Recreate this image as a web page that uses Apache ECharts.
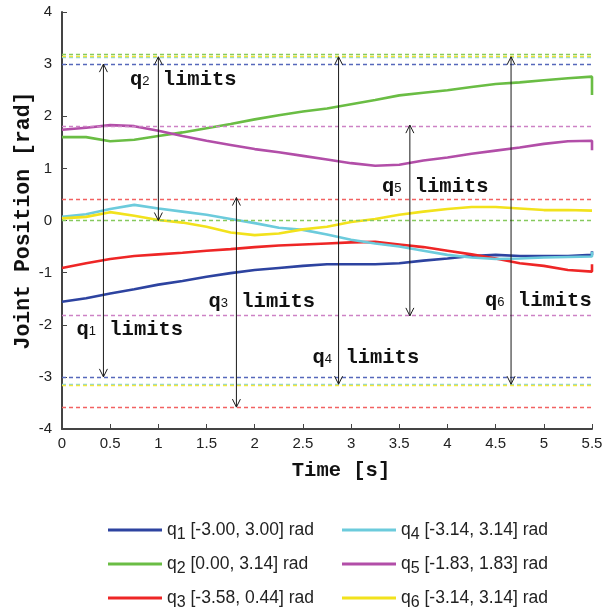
<!DOCTYPE html>
<html>
<head>
<meta charset="utf-8">
<script src="https://cdn.jsdelivr.net/npm/echarts@6/dist/echarts.min.js"></script>
<style>html,body{margin:0;padding:0;background:#fff}#c{width:602px;height:612px}</style>
</head>
<body>
<div id="c"></div>
<script>
// ---- data ----
const time = [0,0.25,0.5,0.75,1,1.25,1.5,1.75,2,2.25,2.5,2.75,3,3.25,3.5,3.75,4,4.25,4.5,4.75,5,5.25,5.5,5.5];
const q1 = [-1.56,-1.49,-1.40,-1.32,-1.23,-1.16,-1.08,-1.01,-0.95,-0.91,-0.87,-0.84,-0.84,-0.84,-0.82,-0.77,-0.73,-0.68,-0.66,-0.68,-0.68,-0.68,-0.66,-0.59];
const q2 = [1.60,1.60,1.52,1.55,1.62,1.69,1.77,1.85,1.94,2.02,2.09,2.15,2.23,2.31,2.40,2.45,2.50,2.56,2.62,2.65,2.69,2.73,2.76,2.41];
const q3 = [-0.91,-0.82,-0.74,-0.68,-0.65,-0.62,-0.58,-0.55,-0.51,-0.48,-0.46,-0.44,-0.42,-0.41,-0.46,-0.51,-0.58,-0.65,-0.73,-0.82,-0.87,-0.95,-0.98,-0.84];
const q4 = [0.07,0.12,0.22,0.30,0.23,0.17,0.11,0.03,-0.05,-0.14,-0.18,-0.27,-0.37,-0.44,-0.50,-0.58,-0.66,-0.71,-0.74,-0.73,-0.71,-0.70,-0.69,-0.60];
const q5 = [1.74,1.78,1.83,1.81,1.72,1.62,1.53,1.45,1.37,1.31,1.24,1.17,1.10,1.05,1.07,1.15,1.21,1.28,1.34,1.40,1.47,1.52,1.53,1.35];
const q6 = [0.04,0.07,0.16,0.09,0.01,-0.04,-0.12,-0.23,-0.28,-0.25,-0.17,-0.12,-0.03,0.03,0.11,0.17,0.22,0.26,0.26,0.23,0.20,0.20,0.19,0.19];
const jointNames = ['q1','q2','q3','q4','q5','q6'];
const jointData = [q1,q2,q3,q4,q5,q6];
const rangeText = ['[-3.00, 3.00] rad','[0.00, 3.14] rad','[-3.58, 0.44] rad','[-3.14, 3.14] rad','[-1.83, 1.83] rad','[-3.14, 3.14] rad'];
// drawn limit lines (lower, upper)
const limitLow  = [-3.00, 0.00, -3.58, -3.14, -1.81, -3.16];
const limitHigh = [ 3.00, 3.19,  0.41,  3.13,  1.81,  3.16];
// limit arrows: time, bottom, top
const arrowT   = [0.43, 1.00, 1.81, 2.87, 3.61, 4.66];
const arrowLo  = [-3.00, 0.00, -3.58, -3.14, -1.83, -3.14];
const arrowHi  = [ 3.00, 3.14,  0.44,  3.14,  1.83,  3.14];
// limit labels: left time, centre value
const labelT = [0.15, 0.705, 1.52, 2.60, 3.32, 4.39];
const labelV = [-2.10, 2.69, -1.56, -2.63, 0.65, -1.54];
const xTicks = [0,0.5,1,1.5,2,2.5,3,3.5,4,4.5,5,5.5];
const yTicks = [-4,-3,-2,-1,0,1,2,3,4];

// ---- styles ----
const lineColors = ['#2d43a0','#6abd44','#ee2626','#6ccbdc','#b24ea8','#f2e21c'];
const dashColors = ['#5668bb','#86c95e','#f26262','#84d3e0','#cd82c5','#f3e63c'];
const legendLeft = [108,108,108,342,342,342];
const legendTop  = [517,551,585,517,551,585];

const chart = echarts.init(document.getElementById('c'), null, {renderer:'canvas'});

const series = jointNames.map((n,i)=>({
  name: n,
  type: 'line',
  data: time.map((t,k)=>[t, jointData[i][k]]),
  showSymbol: false,
  symbol: 'none',
  lineStyle: {width: 2.6, color: lineColors[i]},
  itemStyle: {color: lineColors[i]},
  silent: true,
  z: 3,
  markLine: {
    silent: true,
    symbol: 'none',
    label: {show: false},
    animation: false,
    lineStyle: {type: [4,3], width: 1.4, color: dashColors[i]},
    emphasis: {disabled: true},
    data: [{yAxis: limitLow[i]}, {yAxis: limitHigh[i]}]
  }
}));

series.push({
  type: 'custom',
  silent: true,
  z: 5,
  data: arrowT.map((t,i)=>[t, arrowLo[i], arrowHi[i]]),
  renderItem: function(params, api){
    const b = api.coord([api.value(0), api.value(1)]);
    const tp = api.coord([api.value(0), api.value(2)]);
    const hw = 4, hh = 8;
    const st = {stroke:'#1a1a1a', lineWidth:1, fill:null};
    return {type:'group', children:[
      {type:'line', shape:{x1:b[0],y1:b[1],x2:tp[0],y2:tp[1]}, style:st},
      {type:'polyline', shape:{points:[[tp[0]-hw,tp[1]+hh],[tp[0],tp[1]],[tp[0]+hw,tp[1]+hh]]}, style:st},
      {type:'polyline', shape:{points:[[b[0]-hw,b[1]-hh],[b[0],b[1]],[b[0]+hw,b[1]-hh]]}, style:st}
    ]};
  }
});

series.push({
  type: 'custom',
  silent: true,
  z: 6,
  data: labelT.map((t,i)=>[t, labelV[i], i+1]),
  renderItem: function(params, api){
    const p = api.coord([api.value(0), api.value(1)]);
    return {type:'text', x:p[0], y:p[1], style:{
      text: '{b|q}{s|' + api.value(2) + '}{b| limits}',
      align:'left', verticalAlign:'middle',
      rich:{
        b:{fontFamily:'Liberation Mono', fontWeight:'bold', fontSize:20.5, fill:'#111', lineHeight:22},
        s:{fontFamily:'Liberation Sans', fontSize:13, fill:'#111', lineHeight:22, padding:[3,1,0,0]}
      }
    }};
  }
});

const legendRich = {
  q:{fontFamily:'Liberation Sans', fontSize:17.5, color:'#222', lineHeight:20},
  s:{fontFamily:'Liberation Sans', fontSize:16, color:'#222', lineHeight:20, padding:[10,0,0,0]},
  r:{fontFamily:'Liberation Sans', fontSize:17.5, color:'#222', lineHeight:20}
};
function legendFmt(name){
  const i = jointNames.indexOf(name);
  return '{q|q}{s|' + (i+1) + '}{r| ' + rangeText[i] + '}';
}
const legends = jointNames.map((n,i)=>({
  orient:'vertical', left:legendLeft[i], top:legendTop[i],
  data:[{name:n, icon:'rect'}],
  itemWidth:54, itemHeight:3,
  selectedMode:false,
  padding:0,
  formatter: legendFmt,
  textStyle:{rich:legendRich}
}));

chart.setOption({
  animation: false,
  backgroundColor:'#fff',
  grid:{left:62, right:10, top:12, bottom:183, outerBoundsMode:'none', containLabel:false},
  legend: legends,
  xAxis:{
    type:'value', min:0, max:5.5, interval:0.5,
    axisLine:{show:true, onZero:false, lineStyle:{color:'#444', width:2}},
    axisTick:{show:true, inside:true, length:5, lineStyle:{color:'#444', width:1}},
    splitLine:{show:false},
    axisLabel:{color:'#222', fontFamily:'Liberation Sans', fontSize:15, margin:7,
      formatter: v => (xTicks.indexOf(v) >= 0 ? String(v) : '')},
    name:'Time [s]', nameLocation:'middle', nameGap:31, nameMoveOverlap:false,
    nameTextStyle:{fontFamily:'Liberation Mono', fontWeight:'bold', fontSize:20.5, color:'#111', padding:[0,0,0,28]}
  },
  yAxis:{
    type:'value', min:-4, max:4, interval:1,
    axisLine:{show:true, onZero:false, lineStyle:{color:'#444', width:2}},
    axisTick:{show:true, inside:true, length:5, lineStyle:{color:'#444', width:1}},
    splitLine:{show:false},
    axisLabel:{color:'#222', fontFamily:'Liberation Sans', fontSize:15, margin:10,
      formatter: v => (yTicks.indexOf(v) >= 0 ? String(v) : '')},
    name:'Joint Position [rad]', nameLocation:'middle', nameGap:27, nameRotate:90, nameMoveOverlap:false,
    nameTextStyle:{fontFamily:'Liberation Mono', fontWeight:'bold', fontSize:21.5, color:'#111'}
  },
  series: series
});
</script>
</body>
</html>
